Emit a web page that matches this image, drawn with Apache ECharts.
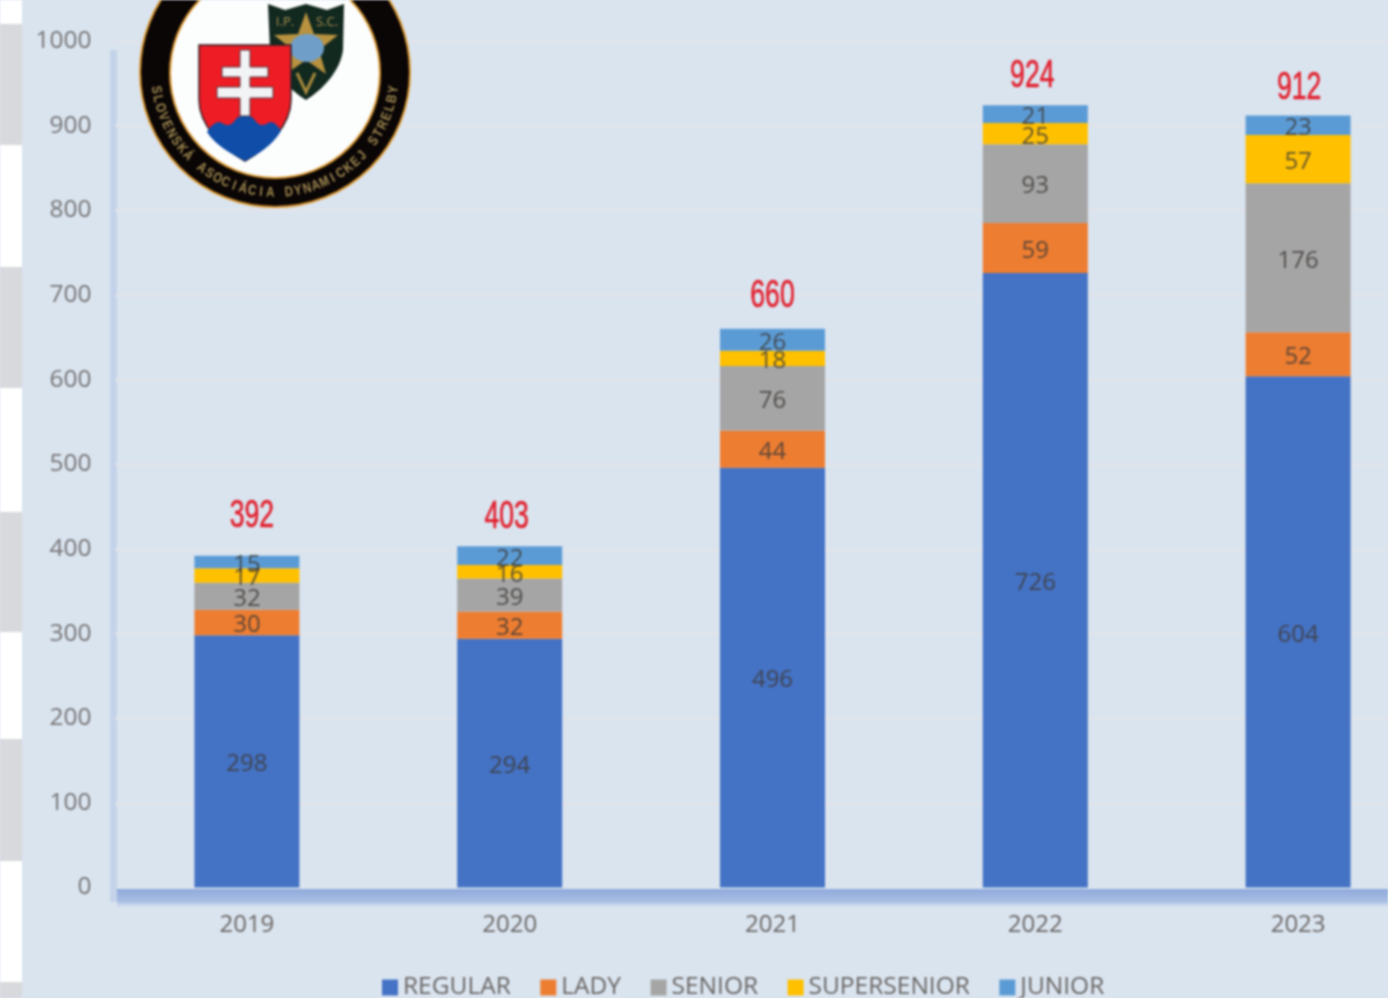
<!DOCTYPE html>
<html>
<head>
<meta charset="utf-8">
<title>SADS members</title>
<script src="https://cdn.jsdelivr.net/npm/echarts@6/dist/echarts.min.js"></script>
<style>
    html, body { margin: 0; padding: 0; background: #dae4ef; overflow: hidden; }
    #myChart { width: 1388px; height: 998px; filter: blur(0.8px); }
</style>
</head>
<body>
<div id="myChart"></div>
<script>
    const years = ['2019', '2020', '2021', '2022', '2023'];
    const regular = [298, 294, 496, 726, 604];
    const lady = [30, 32, 44, 59, 52];
    const senior = [32, 39, 76, 93, 176];
    const supersenior = [17, 16, 18, 25, 57];
    const junior = [15, 22, 26, 21, 23];
    const totals = [392, 403, 660, 924, 912];

    const FONT = '"Open Sans", sans-serif';
    const BG = '#dae4ef';

    // small shifts of the red totals, they are not quite centred in the original
    const totalShift = [[5, -39], [-3, -29], [0, -32], [-3, -29], [1, -26.5]];

    function barSeries(name, color, data) {
        return {
            name: name,
            type: 'bar',
            stack: 'all',
            barWidth: 105,
            itemStyle: { color: color },
            label: {
                show: true,
                position: 'inside',
                offset: [0, 3],
                fontFamily: FONT,
                fontSize: 24,
                color: 'rgba(62,58,56,0.82)'
            },
            data: data
        };
    }

    // grey and white strip on the left edge of the slide
    const stripGrey = [[24, 145], [267, 388], [512, 632], [739, 861], [982, 998]];

    function decoration() {
        let list = [{
            type: 'rect', z: -10,
            shape: { x: 22, y: 0, width: 1366, height: 998 },
            style: { fill: BG }
        }, {
            type: 'rect', z: -10,
            shape: { x: 0, y: 0, width: 22, height: 998 },
            style: { fill: '#fff' }
        }];
        stripGrey.forEach(s => {
            list.push({
                type: 'rect', z: -10,
                shape: { x: 0, y: s[0], width: 22, height: s[1] - s[0] },
                style: { fill: '#d7d9dc' }
            });
        });
        // left wall and floor of the chart
        list.push({
            type: 'rect', z: -5,
            shape: { x: 110, y: 50, width: 7, height: 852 },
            style: { fill: '#c4d3ea' }
        });
        list.push({
            type: 'rect', z: -5,
            shape: { x: 117, y: 889, width: 1271, height: 18 },
            style: {
                fill: new echarts.graphic.LinearGradient(0, 0, 0, 1, [
                    { offset: 0, color: '#8fa9da' },
                    { offset: 0.7, color: '#a9bfe3' },
                    { offset: 1, color: BG }
                ])
            }
        });
        return list;
    }

    // graphic has no plain svg path type, so register the logo outlines
    echarts.graphic.registerShape('ipscShield', echarts.graphic.extendPath('M268 4 L285 10 L306 4 L327 10 L344 4 L343 50 C340 72 322 90 306 100 C290 90 272 72 270 50 Z'));
    echarts.graphic.registerShape('skShield', echarts.graphic.extendPath('M199 45 L291 45 L291 100 C291 125 268 148 245 161 C222 148 199 125 199 100 Z'));
    echarts.graphic.registerShape('skHills', echarts.graphic.extendPath('M207 132 C212 124 218 120 222 123 C228 127 232 125 236 119 C240 114 250 114 254 119 C258 125 262 127 268 123 C272 120 277 124 281 131 C272 146 258 154 245 161 C232 154 216 146 207 132 Z'));

    function logo() {
        const cx = 275, cy = 73;
        let list = [
            { type: 'circle', shape: { cx: cx, cy: cy - 1, r: 135 }, style: { fill: '#0b0606', stroke: '#d9962e', lineWidth: 2 } },
            { type: 'circle', shape: { cx: cx, cy: cy, r: 105 }, style: { fill: '#fcfdfd', stroke: '#d9962e', lineWidth: 2 } },
            // IPSC shield
            { type: 'ipscShield', style: { fill: '#12291f' } },
            { type: 'polygon', shape: { points: [[306, 12], [314, 34], [338, 35], [319, 50], [326, 74], [306, 60], [286, 74], [293, 50], [274, 35], [298, 34]] }, style: { fill: '#b8923f' } },
            { type: 'ellipse', shape: { cx: 307, cy: 48, rx: 17, ry: 14 }, style: { fill: '#6f9fc9' } },
            { type: 'polyline', shape: { points: [[297, 73], [306, 92], [315, 73]] }, style: { stroke: '#a88a3c', lineWidth: 3, fill: 'none' } },
            { type: 'text', style: { x: 285, y: 22, text: 'I.P.', fill: '#a88f52', font: '13px "Open Sans", sans-serif', align: 'center', verticalAlign: 'middle' } },
            { type: 'text', style: { x: 327, y: 22, text: 'S.C.', fill: '#a88f52', font: '13px "Open Sans", sans-serif', align: 'center', verticalAlign: 'middle' } },
            // Slovak shield
            { type: 'skShield', style: { fill: '#ee1c25', stroke: '#33222a', lineWidth: 1.5 } },
            { type: 'skHills', style: { fill: '#0f4da8' } },
            { type: 'polygon', shape: { points: [[240, 50], [250, 50], [250, 67], [268, 67], [268, 77], [250, 77], [250, 87], [273, 87], [273, 98], [250, 98], [250, 116], [240, 116], [240, 98], [217, 98], [217, 87], [240, 87], [240, 77], [222, 77], [222, 67], [240, 67]] }, style: { fill: '#f2f3f5', stroke: '#4b3a40', lineWidth: 1 } }
        ];
        // lettering along the ring
        const ring = 'SLOVENSKÁ ASOCIÁCIA DYNAMICKEJ STRELBY';
        const span = 164 * Math.PI / 180;
        const r = 120;
        ring.split('').forEach((ch, i) => {
            const a = -span / 2 + span * i / (ring.length - 1);
            list.push({
                type: 'text',
                x: cx + r * Math.sin(a),
                y: cy + r * Math.cos(a),
                rotation: a,
                scaleX: 0.82,
                style: {
                    text: ch, fill: '#a08a50', font: 'bold 14px "Liberation Sans", sans-serif',
                    align: 'center', verticalAlign: 'middle'
                }
            });
        });
        // z has to sit on every child, the group does not pass it down
        list.forEach(el => { el.z = 100; });
        return { type: 'group', children: list };
    }

    // narrow red totals, there is no condensed font here so the text is squeezed
    function renderTotal(params, api) {
        const p = api.coord([api.value(0), api.value(1)]);
        const s = totalShift[params.dataIndex];
        return {
            type: 'text',
            x: p[0] + s[0],
            y: p[1] + s[1],
            scaleX: 0.7,
            style: {
                text: String(api.value(1)),
                font: '38px "Liberation Sans", sans-serif',
                fill: '#e2202e',
                stroke: '#e2202e',
                lineWidth: 0.6,
                align: 'center',
                verticalAlign: 'middle'
            }
        };
    }

    let option = {
        animation: false,
        backgroundColor: '#fff',
        graphic: { elements: decoration().concat([logo()]) },
        grid: { left: 115.5, top: 41, width: 1314, height: 846.5, containLabel: false, outerBoundsMode: 'none' },
        legend: {
            left: 382,
            top: 975,
            padding: 0,
            itemWidth: 16,
            itemHeight: 16,
            itemGap: 29.5,
            icon: 'rect',
            textStyle: { fontFamily: FONT, fontSize: 24.5, color: '#696664', padding: [0, 0, 0, 0] },
            data: ['REGULAR', 'LADY', 'SENIOR', 'SUPERSENIOR', 'JUNIOR']
        },
        xAxis: {
            type: 'category',
            data: years,
            axisLine: { show: false },
            axisTick: { show: false },
            axisLabel: { margin: 26, fontFamily: FONT, fontSize: 24, color: '#696664' }
        },
        yAxis: {
            type: 'value',
            min: 0,
            max: 1000,
            interval: 100,
            axisLine: { show: false },
            axisTick: { show: false },
            axisLabel: {
                margin: 24,
                padding: [3, 0, 0, 0],
                fontFamily: FONT,
                fontSize: 24.5,
                color: '#757475',
                formatter: v => String(v)
            },
            splitLine: { showMinLine: false, lineStyle: { color: '#e0e3ea', width: 3 } }
        },
        series: [
            barSeries('REGULAR', '#4472c4', regular),
            barSeries('LADY', '#ed7d31', lady),
            barSeries('SENIOR', '#a5a5a5', senior),
            barSeries('SUPERSENIOR', '#ffc000', supersenior),
            barSeries('JUNIOR', '#5b9bd5', junior),
            {
                name: 'TOTAL',
                type: 'custom',
                silent: true,
                renderItem: renderTotal,
                encode: { x: 0, y: 1 },
                data: totals.map((v, i) => [i, v])
            }
        ]
    };

    const myChart = echarts.init(document.getElementById('myChart'));
    myChart.setOption(option);
</script>
</body>
</html>
